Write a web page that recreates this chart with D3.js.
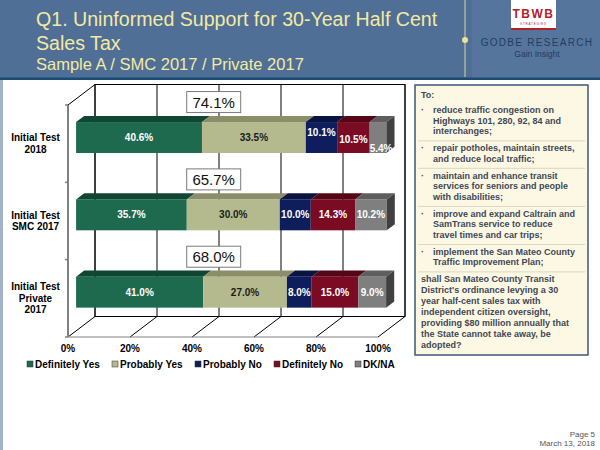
<!DOCTYPE html>
<html><head><meta charset="utf-8">
<script src="https://cdn.jsdelivr.net/npm/d3@7"></script>
<style>html,body{margin:0;padding:0;background:#fff;}svg{display:block;font-family:Arial,"Liberation Sans",sans-serif;}</style>
</head><body>
<svg id="c" width="600" height="450"></svg>
<script>
// ---------- data ----------
const categories = ["Initial Test 2018", "Initial Test SMC 2017", "Initial Test Private 2017"];
const categoryLines = [["Initial Test", "2018"], ["Initial Test", "SMC 2017"], ["Initial Test", "Private", "2017"]];
const seriesNames = ["Definitely Yes", "Probably Yes", "Probably No", "Definitely No", "DK/NA"];
const definitelyYes = [40.6, 35.7, 41.0];
const probablyYes = [33.5, 30.0, 27.0];
const probablyNo = [10.1, 10.0, 8.0];
const definitelyNo = [10.5, 14.3, 15.0];
const dkNa = [5.4, 10.2, 9.0];
const totalSupport = [74.1, 65.7, 68.0];
const xTicks = [0, 20, 40, 60, 80, 100];
const titleLines = ["Q1. Uninformed Support for 30-Year Half Cent", "Sales Tax"];
const subtitle = "Sample A / SMC 2017 / Private 2017";
const boxIntro = "To:";
const boxBullets = [
  ["reduce traffic congestion on", "Highways 101, 280, 92, 84 and", "interchanges;"],
  ["repair potholes, maintain streets,", "and reduce local traffic;"],
  ["maintain and enhance transit", "services for seniors and people", "with disabilities;"],
  ["improve and expand Caltrain and", "SamTrans service to reduce", "travel times and car trips;"],
  ["implement the San Mateo County", "Traffic Improvement Plan;"]
];
const boxClosing = ["shall San Mateo County Transit", "District's ordinance levying a 30", "year half-cent sales tax with", "independent citizen oversight,", "providing $80 million annually that", "the State cannot take away, be", "adopted?"];

// ---------- styles ----------
const frontColors = ["#1d6a4e", "#b4ba8e", "#0e1e5c", "#7b0b22", "#7f7f7f"];
const topColors   = ["#0f4733", "#8b8e69", "#0a1443", "#560717", "#5e5e5e"];
const sideColor = "#404040";
const labelColors = ["#fff", "#1a1a1a", "#fff", "#fff", "#fff"];
// label nudges (Excel collision avoidance in first bar): [catIndex, seriesIndex, dx, dy]
const labelNudges = [[0, 2, 0, -5], [0, 3, 0, 2], [0, 4, 3, 11]];

const seriesValues = [definitelyYes, probablyYes, probablyNo, definitelyNo, dkNa];
const svg = d3.select("#c");

// ---------- header ----------
svg.append("rect").attr("x", 0).attr("y", 0).attr("width", 600).attr("height", 79).attr("fill", "#4f6f97");
svg.append("rect").attr("x", 472).attr("y", 0).attr("width", 128).attr("height", 79).attr("fill", "#5a7aa0").attr("opacity", 0.6);
svg.append("rect").attr("x", 0).attr("y", 77.5).attr("width", 600).attr("height", 2.5).attr("fill", "#1b4a74");
svg.append("rect").attr("x", 0).attr("y", 80).attr("width", 3).attr("height", 370).attr("fill", "#a3b2c6");
svg.append("line").attr("x1", 465).attr("x2", 465).attr("y1", 0).attr("y2", 77).attr("stroke", "#d9d49a").attr("stroke-width", 1);
svg.append("circle").attr("cx", 465).attr("cy", 40).attr("r", 3).attr("fill", "#ece39a");
const tl = svg.append("g").attr("fill", "#f4eaa2");
titleLines.forEach((t, i) => tl.append("text").attr("x", 36).attr("y", 26 + i * 24).attr("font-size", 19.6).text(t));
tl.append("text").attr("x", 36).attr("y", 69.5).attr("font-size", 16.5).text(subtitle);
// logo
svg.append("rect").attr("x", 511).attr("y", 0).attr("width", 45).attr("height", 30).attr("fill", "#fff");
svg.append("rect").attr("x", 511).attr("y", 28).attr("width", 45).attr("height", 2).attr("fill", "#b3202a");
svg.append("text").attr("x", 533.5).attr("y", 18).attr("text-anchor", "middle").attr("font-size", 12).attr("font-weight", "bold")
  .attr("fill", "#b3202a").attr("letter-spacing", 1.5).text("TBWB");
svg.append("text").attr("x", 533.5).attr("y", 25).attr("text-anchor", "middle").attr("font-size", 3).attr("fill", "#b3202a")
  .attr("letter-spacing", 0.8).text("STRATEGIES");
svg.append("text").attr("x", 537).attr("y", 46).attr("text-anchor", "middle").attr("font-size", 10).attr("fill", "#1f3d63")
  .attr("letter-spacing", 1.3).text("GODBE RESEARCH");
svg.append("text").attr("x", 537).attr("y", 57).attr("text-anchor", "middle").attr("font-size", 8.5).attr("fill", "#1f3d63")
  .text("Gain Insight");

// ---------- chart geometry ----------
const DX = 27, DY = 20.5;
const x = d3.scaleLinear().domain([0, 100]).range([68, 378]);
const y = d3.scaleBand().domain(categories).range([105, 337]).padding(0);
const barH = y.bandwidth() * 0.4;
const dFront = 0.3, dBack = 0.6;
const P = (v, yp, d) => [x(v) + d * DX, yp - d * DY];
const poly = pts => pts.map(p => p.join(",")).join(" ");

const g = svg.append("g");
// back wall
g.append("rect").attr("x", x(0) + DX).attr("y", y.range()[0] - DY).attr("width", x(100) - x(0)).attr("height", y.range()[1] - y.range()[0])
  .attr("fill", "#fff").attr("stroke", "#000").attr("stroke-width", 1);
// gridlines on back wall & floor
xTicks.forEach(t => {
  g.append("line").attr("x1", x(t) + DX).attr("x2", x(t) + DX).attr("y1", y.range()[0] - DY).attr("y2", y.range()[1] - DY)
    .attr("stroke", "#000").attr("stroke-width", 1);
  g.append("line").attr("x1", x(t)).attr("y1", y.range()[1]).attr("x2", x(t) + DX).attr("y2", y.range()[1] - DY)
    .attr("stroke", "#000").attr("stroke-width", 1);
});
// floor front edge
g.append("line").attr("x1", x(0)).attr("x2", x(100)).attr("y1", y.range()[1]).attr("y2", y.range()[1]).attr("stroke", "#808080");
// left wall edges
g.append("line").attr("x1", x(0)).attr("y1", y.range()[0]).attr("x2", x(0) + DX).attr("y2", y.range()[0] - DY).attr("stroke", "#000");
g.append("line").attr("x1", x(0)).attr("x2", x(0)).attr("y1", y.range()[0]).attr("y2", y.range()[1]).attr("stroke", "#808080").attr("stroke-width", 2);
// category tick marks
[y.range()[0], ...categories.map(c => y(c) + y.bandwidth())].forEach(yy => {
  g.append("line").attr("x1", x(0) - 3).attr("x2", x(0)).attr("y1", yy).attr("y2", yy).attr("stroke", "#808080").attr("stroke-width", 1.5);
});

// bars
categories.forEach((cat, ci) => {
  const yc = y(cat) + y.bandwidth() / 2;
  const y0 = yc - barH / 2, y1 = yc + barH / 2;
  let cum = 0;
  seriesValues.forEach((vals, si) => {
    const v = vals[ci];
    const a = cum, b = cum + v;
    cum = b;
    g.append("polygon").attr("points", poly([P(a, y0, dFront), P(b, y0, dFront), P(b, y0, dBack), P(a, y0, dBack)]))
      .attr("fill", topColors[si]);
    const f0 = P(a, y0, dFront), f1 = P(b, y1, dFront);
    g.append("rect").attr("x", f0[0]).attr("y", f0[1]).attr("width", f1[0] - f0[0]).attr("height", f1[1] - f0[1])
      .attr("fill", frontColors[si]);
    if (si === seriesValues.length - 1) {
      g.append("polygon").attr("points", poly([P(b, y0, dFront), P(b, y0, dBack), P(b, y1, dBack), P(b, y1, dFront)]))
        .attr("fill", sideColor);
    }
  });
  // labels
  cum = 0;
  seriesValues.forEach((vals, si) => {
    const v = vals[ci];
    const mid = cum + v / 2;
    cum += v;
    const c = P(mid, yc, dFront);
    const n = labelNudges.find(k => k[0] === ci && k[1] === si) || [0, 0, 0, 0];
    g.append("text").attr("x", c[0] + n[2]).attr("y", c[1] + n[3] + 3.5).attr("text-anchor", "middle")
      .attr("font-size", 10).attr("font-weight", "bold").attr("fill", labelColors[si]).text(v.toFixed(1) + "%");
  });
  // total support box
  const bx = x(47), by = y0 - dFront * DY - 20;
  g.append("rect").attr("x", bx - 27).attr("y", by - 10.5).attr("width", 54).attr("height", 21)
    .attr("fill", "#fff").attr("stroke", "#7a7a7a").attr("stroke-width", 1);
  g.append("text").attr("x", bx).attr("y", by + 5.5).attr("text-anchor", "middle").attr("font-size", 15).attr("fill", "#111")
    .text(totalSupport[ci].toFixed(1) + "%");
  // category label (centered on band at front plane)
  const lines = categoryLines[ci];
  const lh = 11.5;
  lines.forEach((ln, li) => {
    g.append("text").attr("x", 35.5).attr("y", yc + (li - (lines.length - 1) / 2) * lh + 3.5)
      .attr("text-anchor", "middle").attr("font-size", 10).attr("font-weight", "bold").attr("fill", "#000").text(ln);
  });
});

// x tick labels
xTicks.forEach(t => {
  g.append("text").attr("x", x(t)).attr("y", 352).attr("text-anchor", "middle").attr("font-size", 10).attr("font-weight", "bold")
    .text(t + "%");
});

// legend
const legX = [27, 112, 195, 274, 355];
seriesNames.forEach((s, i) => {
  g.append("rect").attr("x", legX[i]).attr("y", 361).attr("width", 6).attr("height", 6).attr("fill", frontColors[i])
    .attr("stroke", "#333").attr("stroke-width", 0.5);
  g.append("text").attr("x", legX[i] + 8).attr("y", 367.5).attr("font-size", 10).attr("font-weight", "bold").text(s);
});

// ---------- right text box ----------
const tb = svg.append("g");
tb.append("rect").attr("x", 415).attr("y", 85).attr("width", 173).attr("height", 270).attr("fill", "#fdf8e3")
  .attr("stroke", "#3a5878").attr("stroke-width", 1.5);
const tc = "#3d4757", fs = 9, lh = 10.7;
tb.append("text").attr("x", 421).attr("y", 98).attr("font-size", fs).attr("font-weight", "bold").attr("fill", tc).text(boxIntro);
let yy = 113;
boxBullets.forEach((b, bi) => {
  tb.append("text").attr("x", 421).attr("y", yy).attr("font-size", fs).attr("font-weight", "bold").attr("fill", tc).text("·");
  b.forEach((ln, li) => {
    tb.append("text").attr("x", 433).attr("y", yy + li * lh).attr("font-size", fs).attr("font-weight", "bold").attr("fill", tc).text(ln);
  });
  const sepY = yy + (b.length - 1) * lh + 6.5;
  tb.append("line").attr("x1", 418).attr("x2", 585).attr("y1", sepY).attr("y2", sepY).attr("stroke", "#ddd6c0").attr("stroke-width", 1);
  yy = sepY + 10.2;
});
boxClosing.forEach((ln, li) => {
  tb.append("text").attr("x", 421).attr("y", yy + li * 10.9).attr("font-size", fs).attr("font-weight", "bold").attr("fill", tc).text(ln);
});

// ---------- footer ----------
svg.append("text").attr("x", 595).attr("y", 437).attr("text-anchor", "end").attr("font-size", 8).attr("fill", "#555").text("Page 5");
svg.append("text").attr("x", 595).attr("y", 446).attr("text-anchor", "end").attr("font-size", 8).attr("fill", "#555").text("March 13, 2018");
</script>
</body></html>
